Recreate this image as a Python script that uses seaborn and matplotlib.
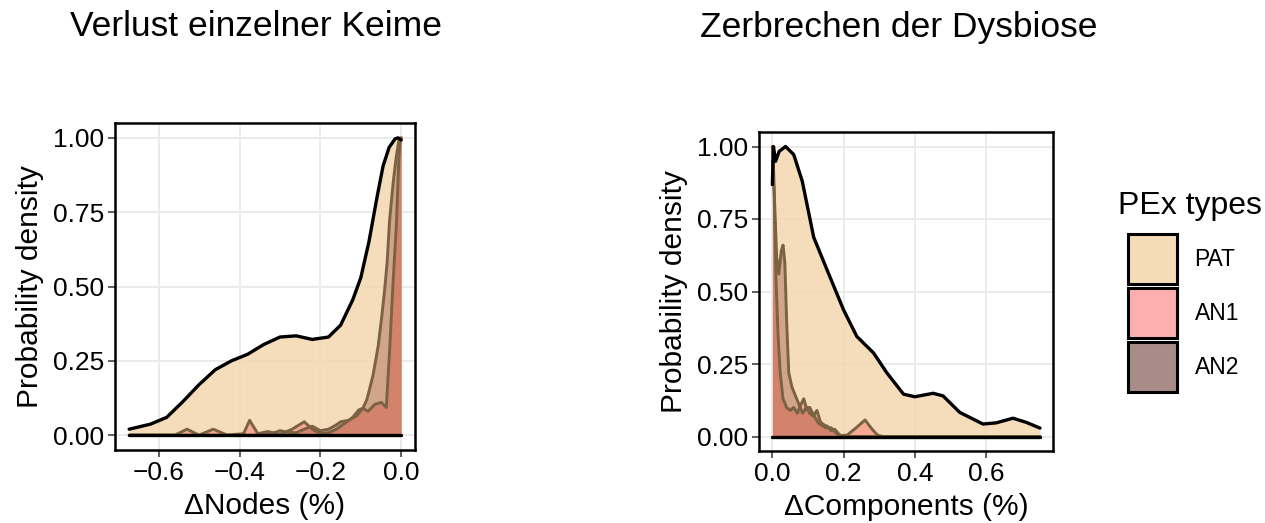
import matplotlib
matplotlib.use("Agg")
import matplotlib.pyplot as plt
from matplotlib.patches import Patch
import seaborn as sns

# ---- data (scaled densities) ----
# Left panel: loss of single nodes
nodes_pat_x = [-0.673, -0.62, -0.58, -0.54, -0.50, -0.46, -0.42, -0.38, -0.34, -0.30,
               -0.26, -0.22, -0.18, -0.15, -0.12, -0.10, -0.08, -0.06, -0.045, -0.03,
               -0.015, -0.008, 0.0]
nodes_pat_y = [0.02, 0.037, 0.06, 0.113, 0.17, 0.22, 0.25, 0.272, 0.305, 0.33,
               0.334, 0.322, 0.33, 0.37, 0.455, 0.53, 0.65, 0.80, 0.905, 0.968,
               0.997, 1.0, 0.993]

nodes_an1_x = [-0.673, -0.56, -0.53, -0.50, -0.465, -0.43, -0.39, -0.375, -0.355, -0.33,
               -0.30, -0.27, -0.24, -0.22, -0.20, -0.18, -0.16, -0.14, -0.12, -0.105,
               -0.095, -0.082, -0.065, -0.049, -0.037, -0.029, -0.02, -0.012, -0.006,
               -0.002, 0.0]
nodes_an1_y = [0.0, 0.0, 0.02, 0.0, 0.02, 0.0, 0.005, 0.05, 0.005, 0.012,
               0.003, 0.02, 0.045, 0.02, 0.005, 0.008, 0.02, 0.04, 0.06, 0.085,
               0.09, 0.08, 0.104, 0.11, 0.093, 0.28, 0.52, 0.71, 0.93,
               1.0, 1.0]

nodes_an2_x = [-0.673, -0.34, -0.32, -0.30, -0.28, -0.26, -0.24, -0.22, -0.20, -0.18,
               -0.16, -0.15, -0.13, -0.11, -0.095, -0.085, -0.07, -0.057, -0.049, -0.041,
               -0.035, -0.029, -0.02, -0.012, -0.006, 0.0]
nodes_an2_y = [0.0, 0.0, 0.005, 0.015, 0.01, 0.008, 0.02, 0.03, 0.015, 0.02,
               0.035, 0.045, 0.05, 0.065, 0.09, 0.12, 0.2, 0.30, 0.39, 0.49,
               0.58, 0.72, 0.85, 0.94, 0.99, 1.0]

# Right panel: breaking up the dysbiosis
comp_pat_x = [0.0, 0.003, 0.009, 0.019, 0.037, 0.06, 0.084, 0.116, 0.154, 0.2,
              0.237, 0.284, 0.321, 0.368, 0.4, 0.451, 0.479, 0.526, 0.591, 0.628,
              0.675, 0.712, 0.751]
comp_pat_y = [0.869, 1.0, 0.949, 0.983, 1.0, 0.972, 0.88, 0.687, 0.573, 0.436,
              0.345, 0.288, 0.22, 0.146, 0.137, 0.149, 0.14, 0.083, 0.043, 0.047,
              0.063, 0.049, 0.029]

comp_an1_x = [0.0, 0.004, 0.01, 0.016, 0.022, 0.03, 0.04, 0.05, 0.06, 0.07,
              0.08, 0.088, 0.095, 0.105, 0.115, 0.125, 0.135, 0.145, 0.155, 0.165,
              0.175, 0.19, 0.21, 0.235, 0.26, 0.28, 0.295, 0.31, 0.751]
comp_an1_y = [1.0, 0.9, 0.55, 0.35, 0.22, 0.13, 0.10, 0.09, 0.10, 0.08,
              0.11, 0.13, 0.10, 0.08, 0.07, 0.09, 0.05, 0.04, 0.035, 0.02,
              0.025, 0.003, 0.005, 0.03, 0.057, 0.025, 0.005, 0.0, 0.0]

comp_an2_x = [0.0, 0.005, 0.012, 0.018, 0.025, 0.03, 0.035, 0.04, 0.046, 0.055,
              0.065, 0.075, 0.085, 0.095, 0.105, 0.115, 0.13, 0.15, 0.165, 0.18,
              0.2, 0.751]
comp_an2_y = [0.95, 0.85, 0.62, 0.56, 0.64, 0.66, 0.60, 0.40, 0.22, 0.17,
              0.14, 0.11, 0.08, 0.10, 0.10, 0.075, 0.045, 0.03, 0.03, 0.01,
              0.0, 0.0]

groups = ["PAT", "AN1", "AN2"]
fill_colors = {"PAT": "#F4D6AE", "AN1": "#FA8072", "AN2": "#802A16"}
fill_alpha = {"PAT": 0.85, "AN1": 0.55, "AN2": 0.3}
line_colors = {"PAT": "black", "AN1": "#7B6244", "AN2": "#7B6244"}
legend_colors = {"PAT": "#F5DCB8", "AN1": "#FDAFAF", "AN2": "#A88C88"}

sns.set_theme(style="whitegrid")
plt.rcParams["font.family"] = ["Liberation Sans", "DejaVu Sans"]

fig = plt.figure(figsize=(12.65, 5.23), dpi=100)
ax1 = fig.add_axes([115 / 1265, 73 / 523, 300 / 1265, 327 / 523])
ax2 = fig.add_axes([759 / 1265, 72 / 523, 294 / 1265, 319 / 523])


def draw_density(ax, name, x, y, z):
    ax.fill_between(x, 0, y, color=fill_colors[name], alpha=fill_alpha[name],
                    linewidth=0, zorder=z)
    if name == "PAT":
        lw, zl = 2.4, 10
    else:
        lw, zl = 2.1, 6 + z * 0.1
    # baseline + upper outline
    sns.lineplot(x=[x[0], x[-1]], y=[0, 0], ax=ax, color=line_colors[name],
                 linewidth=lw, estimator=None, sort=False, zorder=zl)
    sns.lineplot(x=x, y=y, ax=ax, color=line_colors[name], linewidth=lw,
                 estimator=None, sort=False, zorder=zl)


draw_density(ax1, "PAT", nodes_pat_x, nodes_pat_y, 2)
draw_density(ax1, "AN1", nodes_an1_x, nodes_an1_y, 3)
draw_density(ax1, "AN2", nodes_an2_x, nodes_an2_y, 4)

draw_density(ax2, "PAT", comp_pat_x, comp_pat_y, 2)
draw_density(ax2, "AN1", comp_an1_x, comp_an1_y, 3)
draw_density(ax2, "AN2", comp_an2_x, comp_an2_y, 4)

y_ticks = [0.0, 0.25, 0.5, 0.75, 1.0]
y_ticklabels = ["0.00", "0.25", "0.50", "0.75", "1.00"]
nodes_ticks = [-0.6, -0.4, -0.2, 0.0]
nodes_ticklabels = ["\u22120.6", "\u22120.4", "\u22120.2", "0.0"]
comp_ticks = [0.0, 0.2, 0.4, 0.6]
comp_ticklabels = ["0.0", "0.2", "0.4", "0.6"]

for ax, xl, xt, xtl, xlab in [
    (ax1, (-0.708, 0.034), nodes_ticks, nodes_ticklabels, "\u0394Nodes (%)"),
    (ax2, (-0.0375, 0.7875), comp_ticks, comp_ticklabels, "\u0394Components (%)"),
]:
    ax.set_xlim(*xl)
    ax.set_ylim(-0.05, 1.05)
    ax.set_xticks(xt)
    ax.set_xticklabels(xtl)
    ax.set_yticks(y_ticks)
    ax.set_yticklabels(y_ticklabels)
    ax.set_xlabel(xlab, fontsize=21.5, color="black", labelpad=5)
    ax.set_ylabel("Probability density", fontsize=21.5, color="black", labelpad=6)
    ax.grid(True, color="#EBEBEB", linewidth=1.4)
    ax.set_axisbelow(True)
    ax.set_facecolor("white")
    for s in ax.spines.values():
        s.set_color("black")
        s.set_linewidth(1.8)
        s.set_zorder(20)
    ax.tick_params(axis="both", which="major", labelsize=19, colors="#333333",
                   labelcolor="black", length=5, width=1.1, direction="out",
                   left=True, bottom=True, pad=3)

fig.text(70 / 1265, 1 - 27 / 523, "Verlust einzelner Keime", fontsize=25.5,
         ha="left", va="center", color="black")
fig.text(700 / 1265, 1 - 27 / 523, "Zerbrechen der Dysbiose", fontsize=25.5,
         ha="left", va="center", color="black")

# legend: title as its own text, keys below it
fig.text(1118 / 1265, 1 - 206 / 523, "PEx types", fontsize=23,
         ha="left", va="center", color="black")
handles = [Patch(facecolor=legend_colors[g], edgecolor="black", linewidth=2.2, label=g)
           for g in groups]
leg = fig.legend(handles=handles, loc="upper left",
                 bbox_to_anchor=(1128 / 1265, 1 - 234 / 523), frameon=False,
                 fontsize=16.5, handlelength=2.15, handleheight=2.95,
                 labelspacing=0.2, handletextpad=0.75, borderpad=0, borderaxespad=0,
                 labelcolor="black")

fig.savefig("out.png", dpi=100)
